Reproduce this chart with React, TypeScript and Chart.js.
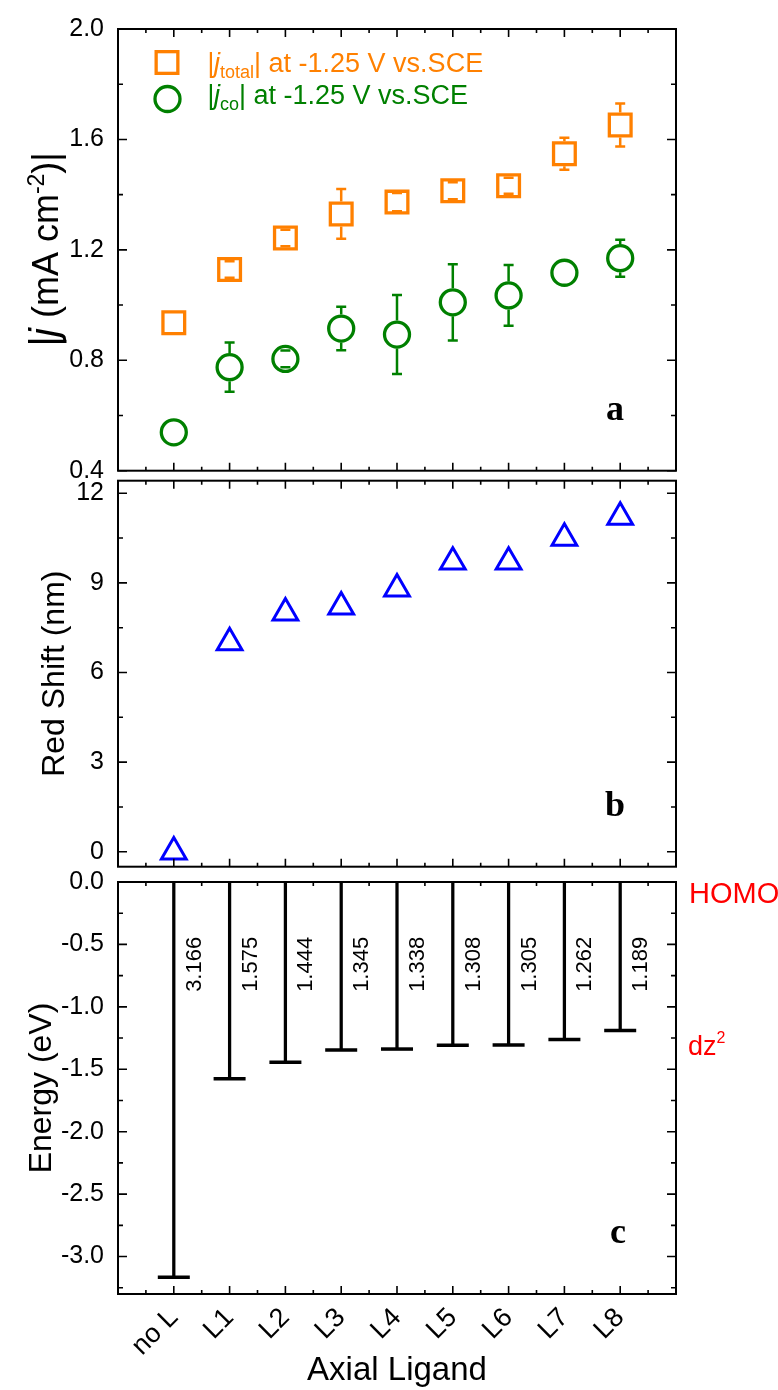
import React, { useEffect, useRef } from "react";
import { Chart, registerables } from "chart.js";

Chart.register(...registerables);

const SANS = "'Liberation Sans', Arial, Helvetica, sans-serif";
const SERIF = "'Liberation Serif', 'Times New Roman', serif";
const ORANGE = "#FF8000";
const GREEN = "#008000";
const BLUE = "#0000FF";
const RED = "#FF0000";

// ---------- data ----------
const categories = ["no L", "L1", "L2", "L3", "L4", "L5", "L6", "L7", "L8"];
const xMajor = [-1, 0, 1, 2, 3, 4, 5, 6, 7, 8, 9];
const xMinor = [-0.5, 0.5, 1.5, 2.5, 3.5, 4.5, 5.5, 6.5, 7.5, 8.5];

const jTotal = [0.936, 1.129, 1.243, 1.33, 1.373, 1.414, 1.432, 1.548, 1.652];
const jTotalErr = [0, 0.03, 0.03, 0.09, 0.033, 0.031, 0.029, 0.058, 0.078];
const jCo = [0.539, 0.775, 0.805, 0.915, 0.893, 1.01, 1.035, 1.117, 1.17];
const jCoErr = [0, 0.089, 0.03, 0.079, 0.143, 0.138, 0.11, 0, 0.067];

const redShift = [0, 7.0, 8.0, 8.2, 8.8, 9.7, 9.7, 10.5, 11.2];

const homoToDz2 = [3.166, 1.575, 1.444, 1.345, 1.338, 1.308, 1.305, 1.262, 1.189];

const yMajorA = [0.4, 0.8, 1.2, 1.6, 2.0];
const yMinorA = [0.6, 1.0, 1.4, 1.8];
const yMajorB = [0, 3, 6, 9, 12];
const yMinorB = [1.5, 4.5, 7.5, 10.5];
const yMajorC = [0, -0.5, -1, -1.5, -2, -2.5, -3];
const yMinorC = [-0.25, -0.75, -1.25, -1.75, -2.25, -2.75, -3.25];

// ---------- helpers ----------
type Part = { t: string; size: number; style?: string; weight?: string; dy?: number; color?: string };

function drawRich(ctx: CanvasRenderingContext2D, parts: Part[], x: number, y: number, color: string, align: "left" | "center") {
  let w = 0;
  ctx.textAlign = "left";
  ctx.textBaseline = "alphabetic";
  parts.forEach((p) => {
    ctx.font = `${p.style || "normal"} ${p.weight || "normal"} ${p.size}px ${SANS}`;
    w += ctx.measureText(p.t).width;
  });
  let cx = align === "center" ? x - w / 2 : x;
  parts.forEach((p) => {
    ctx.font = `${p.style || "normal"} ${p.weight || "normal"} ${p.size}px ${SANS}`;
    ctx.fillStyle = p.color || color;
    ctx.fillText(p.t, cx, y + (p.dy || 0));
    cx += ctx.measureText(p.t).width;
  });
}

function framePlugin(yMajor: number[], yMinor: number[]) {
  return {
    id: "frame",
    afterDraw(chart: any) {
      const { ctx, chartArea: a, scales } = chart;
      const x = scales.x;
      const y = scales.y;
      ctx.save();
      ctx.strokeStyle = "#000";
      ctx.lineWidth = 1.6;
      ctx.beginPath();
      const vt = (v: number, len: number) => {
        const p = x.getPixelForValue(v);
        ctx.moveTo(p, a.bottom);
        ctx.lineTo(p, a.bottom - len);
        ctx.moveTo(p, a.top);
        ctx.lineTo(p, a.top + len);
      };
      const ht = (v: number, len: number) => {
        const p = y.getPixelForValue(v);
        ctx.moveTo(a.left, p);
        ctx.lineTo(a.left + len, p);
        ctx.moveTo(a.right, p);
        ctx.lineTo(a.right - len, p);
      };
      xMajor.forEach((v) => vt(v, 8));
      xMinor.forEach((v) => vt(v, 4));
      yMajor.forEach((v) => ht(v, 9));
      yMinor.forEach((v) => ht(v, 5));
      ctx.stroke();
      ctx.lineWidth = 2;
      ctx.strokeRect(a.left, a.top, a.right - a.left, a.bottom - a.top);
      ctx.restore();
    },
  };
}

function yAxis(min: number, max: number, major: number[], fmt: (v: number) => string, title?: any) {
  return {
    type: "linear",
    min,
    max,
    afterBuildTicks: (s: any) => {
      s.ticks = major.map((v) => ({ value: v }));
    },
    afterFit: (s: any) => {
      s.width = 118;
    },
    grid: { display: false, drawTicks: false },
    border: { display: false },
    ticks: {
      font: { size: 25, family: SANS },
      color: "#000",
      padding: 14,
      callback: (v: any) => fmt(Number(v)),
    },
    title: title || { display: false },
  };
}

function hiddenX() {
  return {
    type: "linear",
    min: -1,
    max: 9,
    offset: false,
    display: false,
  };
}

const baseOptions = {
  animation: false,
  responsive: false,
  events: [],
};

// ---------- panel a ----------
const errorBarPlugin = {
  id: "errorBars",
  beforeDatasetsDraw(chart: any) {
    const { ctx, scales } = chart;
    const x = scales.x;
    const y = scales.y;
    const sets = [
      { v: jTotal, e: jTotalErr, c: ORANGE, hs: 12.5 },
      { v: jCo, e: jCoErr, c: GREEN, hs: 14 },
    ];
    ctx.save();
    ctx.lineWidth = 2.5;
    sets.forEach((s) =>
      s.v.forEach((v, i) => {
        const e = s.e[i];
        if (!e) return;
        const px = x.getPixelForValue(i);
        const c = y.getPixelForValue(v);
        const top = y.getPixelForValue(v + e);
        const bot = y.getPixelForValue(v - e);
        ctx.strokeStyle = s.c;
        ctx.beginPath();
        if (top < c - s.hs) {
          ctx.moveTo(px, top);
          ctx.lineTo(px, c - s.hs);
        }
        if (bot > c + s.hs) {
          ctx.moveTo(px, c + s.hs);
          ctx.lineTo(px, bot);
        }
        ctx.moveTo(px - 5, top);
        ctx.lineTo(px + 5, top);
        ctx.moveTo(px - 5, bot);
        ctx.lineTo(px + 5, bot);
        ctx.stroke();
      })
    );
    ctx.restore();
  },
};

const annotAPlugin = {
  id: "annotA",
  afterDraw(chart: any) {
    const { ctx, chartArea: a } = chart;
    ctx.save();
    // legend markers
    ctx.lineWidth = 3.3;
    ctx.strokeStyle = ORANGE;
    ctx.strokeRect(a.left + 49 - 10.85, a.top + 33.5 - 10.85, 21.7, 21.7);
    ctx.strokeStyle = GREEN;
    ctx.beginPath();
    ctx.arc(a.left + 49.5, a.top + 70, 12.5, 0, Math.PI * 2);
    ctx.stroke();
    // legend text
    drawRich(
      ctx,
      [
        { t: "|j", size: 27, style: "italic" },
        { t: "total", size: 18, dy: 6 },
        { t: "| at -1.25 V vs.SCE", size: 27 },
      ],
      a.left + 89,
      a.top + 43,
      ORANGE,
      "left"
    );
    drawRich(
      ctx,
      [
        { t: "|j", size: 27, style: "italic" },
        { t: "co", size: 18, dy: 6 },
        { t: "| at -1.25 V vs.SCE", size: 27 },
      ],
      a.left + 89,
      a.top + 74.5,
      GREEN,
      "left"
    );
    // y title
    ctx.save();
    ctx.translate(58, (a.top + a.bottom) / 2);
    ctx.rotate(-Math.PI / 2);
    drawRich(
      ctx,
      [
        { t: "|j", size: 40, style: "italic" },
        { t: " (mA cm", size: 36 },
        { t: "-2", size: 23, dy: -14 },
        { t: ")|", size: 36 },
      ],
      0,
      0,
      "#000",
      "center"
    );
    ctx.restore();
    // panel letter
    ctx.font = `bold 36px ${SERIF}`;
    ctx.fillStyle = "#000";
    ctx.textAlign = "center";
    ctx.textBaseline = "alphabetic";
    ctx.fillText("a", 615, a.bottom - 51);
    ctx.restore();
  },
};

function configA(): any {
  return {
    type: "scatter",
    data: {
      datasets: [
        {
          label: "jtotal",
          data: jTotal.map((v, i) => ({ x: i, y: v })),
          pointStyle: "rect",
          pointRadius: 15.35,
          pointBorderWidth: 3.3,
          pointBorderColor: ORANGE,
          pointBackgroundColor: "rgba(0,0,0,0)",
          clip: false,
        },
        {
          label: "jco",
          data: jCo.map((v, i) => ({ x: i, y: v })),
          pointStyle: "circle",
          pointRadius: 12.5,
          pointBorderWidth: 3.3,
          pointBorderColor: GREEN,
          pointBackgroundColor: "rgba(0,0,0,0)",
          clip: false,
        },
      ],
    },
    options: {
      ...baseOptions,
      layout: { padding: { left: 0, right: 102, top: 22.7, bottom: 919.3 } },
      plugins: { legend: { display: false }, tooltip: { enabled: false } },
      scales: {
        x: hiddenX(),
        y: yAxis(0.4, 2.0, yMajorA, (v) => v.toFixed(1)),
      },
    },
    plugins: [errorBarPlugin, framePlugin(yMajorA, yMinorA), annotAPlugin],
  };
}

// ---------- panel b ----------
const annotBPlugin = {
  id: "annotB",
  afterDraw(chart: any) {
    const { ctx, chartArea: a } = chart;
    ctx.save();
    ctx.font = `bold 36px ${SERIF}`;
    ctx.fillStyle = "#000";
    ctx.textAlign = "center";
    ctx.textBaseline = "alphabetic";
    ctx.fillText("b", 615, a.bottom - 51);
    ctx.restore();
  },
};

function configB(): any {
  return {
    type: "scatter",
    data: {
      datasets: [
        {
          label: "red shift",
          data: redShift.map((v, i) => ({ x: i, y: v })),
          pointStyle: "triangle",
          pointRadius: 14.3,
          pointBorderWidth: 3,
          pointBorderColor: BLUE,
          pointBackgroundColor: "rgba(0,0,0,0)",
          clip: false,
        },
      ],
    },
    options: {
      ...baseOptions,
      layout: { padding: { left: 0, right: 102, top: 480.7, bottom: 523.3 } },
      plugins: { legend: { display: false }, tooltip: { enabled: false } },
      scales: {
        x: hiddenX(),
        y: yAxis(-0.5, 12.42, yMajorB, (v) => String(v), {
          display: true,
          text: "Red Shift (nm)",
          color: "#000",
          font: { size: 32, family: SANS, lineHeight: 1 },
          padding: { top: 39, bottom: 0 },
        }),
      },
    },
    plugins: [framePlugin(yMajorB, yMinorB), annotBPlugin],
  };
}

// ---------- panel c ----------
const annotCPlugin = {
  id: "annotC",
  afterDraw(chart: any) {
    const { ctx, chartArea: a, scales } = chart;
    const x = scales.x;
    const y = scales.y;
    ctx.save();
    // value labels
    ctx.fillStyle = "#000";
    ctx.font = `22px ${SANS}`;
    ctx.textAlign = "left";
    ctx.textBaseline = "alphabetic";
    const startY = y.getPixelForValue(-0.88);
    homoToDz2.forEach((v, i) => {
      const px = x.getPixelForValue(i);
      ctx.save();
      ctx.translate(px + 27, startY);
      ctx.rotate(-Math.PI / 2);
      ctx.fillText(v.toFixed(3), 0, 0);
      ctx.restore();
    });
    // HOMO / dz2
    ctx.fillStyle = RED;
    ctx.font = `29px ${SANS}`;
    ctx.fillText("HOMO", a.right + 13, a.top + 21);
    drawRich(
      ctx,
      [
        { t: "dz", size: 27 },
        { t: "2", size: 16, dy: -12 },
      ],
      a.right + 12,
      a.top + 173,
      RED,
      "left"
    );
    // panel letter
    ctx.font = `bold 36px ${SERIF}`;
    ctx.fillStyle = "#000";
    ctx.textAlign = "center";
    ctx.fillText("c", 618, a.bottom - 51);
    ctx.restore();
  },
};

function configC(): any {
  return {
    type: "scatter",
    data: {
      datasets: [
        {
          type: "bar",
          label: "gap",
          data: homoToDz2.map((v, i) => ({ x: i, y: [-v, 0] })),
          backgroundColor: "#000",
          borderWidth: 0,
          barThickness: 2.6,
          clip: false,
        },
        {
          type: "scatter",
          label: "dz2",
          data: homoToDz2.map((v, i) => ({ x: i, y: -v })),
          pointStyle: "line",
          pointRadius: 16,
          pointBorderWidth: 3.5,
          pointBorderColor: "#000",
          pointBackgroundColor: "#000",
          clip: false,
        },
      ],
    },
    options: {
      ...baseOptions,
      layout: { padding: { left: 0, right: 102, top: 882, bottom: 0 } },
      plugins: { legend: { display: false }, tooltip: { enabled: false } },
      scales: {
        x: {
          type: "linear",
          min: -1,
          max: 9,
          offset: false,
          afterBuildTicks: (s: any) => {
            s.ticks = categories.map((_, i) => ({ value: i }));
          },
          afterFit: (s: any) => {
            s.height = 96;
          },
          grid: { display: false, drawTicks: false, offset: false },
          border: { display: false },
          ticks: {
            autoSkip: false,
            minRotation: 45,
            maxRotation: 45,
            padding: 8,
            color: "#000",
            font: { size: 27, family: SANS },
            callback: (_v: any, i: number) => categories[i],
          },
          title: {
            display: true,
            text: "Axial Ligand",
            color: "#000",
            font: { size: 33, family: SANS, lineHeight: 1 },
            padding: { top: 0, bottom: 3 },
          },
        },
        y: yAxis(-3.3, 0, yMajorC, (v) => v.toFixed(1), {
          display: true,
          text: "Energy (eV)",
          color: "#000",
          font: { size: 32, family: SANS, lineHeight: 1 },
          padding: { top: 26, bottom: 0 },
        }),
      },
    },
    plugins: [framePlugin(yMajorC, yMinorC), annotCPlugin],
  };
}

export default function App() {
  const r1 = useRef<HTMLCanvasElement>(null);
  const r2 = useRef<HTMLCanvasElement>(null);
  const r3 = useRef<HTMLCanvasElement>(null);

  useEffect(() => {
    document.body.style.margin = "0";
    Chart.defaults.font.family = SANS;
    Chart.defaults.color = "#000";
    const charts = [
      new Chart(r1.current as HTMLCanvasElement, configA()),
      new Chart(r2.current as HTMLCanvasElement, configB()),
      new Chart(r3.current as HTMLCanvasElement, configC()),
    ];
    return () => charts.forEach((c) => c.destroy());
  }, []);

  const cs: React.CSSProperties = { position: "absolute", left: 0, top: 0, width: 778, height: 1390 };
  return (
    <div style={{ position: "relative", width: 778, height: 1390, background: "#fff" }}>
      <canvas ref={r1} width={778} height={1390} style={cs} />
      <canvas ref={r2} width={778} height={1390} style={cs} />
      <canvas ref={r3} width={778} height={1390} style={cs} />
    </div>
  );
}
